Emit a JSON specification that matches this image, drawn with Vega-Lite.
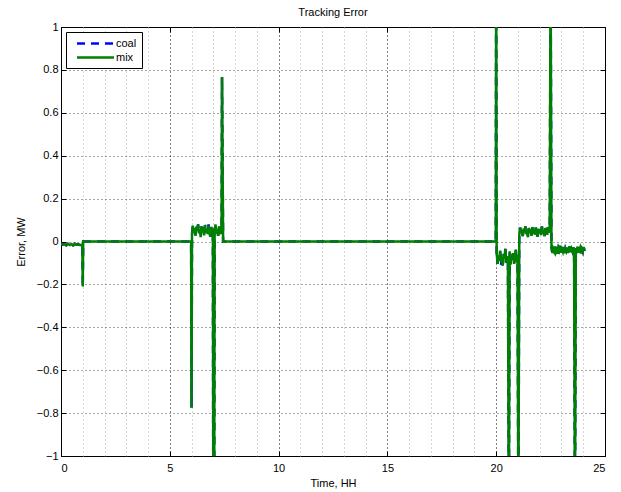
{
  "$schema": "https://vega.github.io/schema/vega-lite/v6.json",
  "width": 544,
  "height": 429,
  "autosize": {"type": "none"},
  "padding": {"left": 61, "top": 27, "right": 16, "bottom": 36},
  "background": "white",
  "config": {"font": "Liberation Sans", "view": {"stroke": "black", "strokeWidth": 1}},
  "title": {"text": "Tracking Error", "fontSize": 11, "fontWeight": "normal", "color": "black", "offset": 3},
  "data": {"values": [
    {"t": 0, "coal": -0.01, "mix": -0.01},
    {"t": 0.08, "coal": -0.015, "mix": -0.015},
    {"t": 0.16, "coal": -0.012, "mix": -0.012},
    {"t": 0.24, "coal": -0.018, "mix": -0.018},
    {"t": 0.32, "coal": -0.01, "mix": -0.01},
    {"t": 0.4, "coal": -0.016, "mix": -0.016},
    {"t": 0.48, "coal": -0.012, "mix": -0.012},
    {"t": 0.56, "coal": -0.018, "mix": -0.018},
    {"t": 0.64, "coal": -0.011, "mix": -0.011},
    {"t": 0.72, "coal": -0.015, "mix": -0.015},
    {"t": 0.8, "coal": -0.013, "mix": -0.013},
    {"t": 0.88, "coal": -0.017, "mix": -0.017},
    {"t": 0.98, "coal": -0.014, "mix": -0.014},
    {"t": 1.0, "coal": -0.21, "mix": -0.21},
    {"t": 1.02, "coal": 0, "mix": 0},
    {"t": 5.98, "coal": 0, "mix": 0},
    {"t": 6.0, "coal": -0.775, "mix": -0.775},
    {"t": 6.02, "coal": 0.032, "mix": 0.032},
    {"t": 6.06, "coal": 0.074, "mix": 0.074},
    {"t": 6.10, "coal": 0.044, "mix": 0.044},
    {"t": 6.14, "coal": 0.062, "mix": 0.062},
    {"t": 6.18, "coal": 0.026, "mix": 0.026},
    {"t": 6.22, "coal": 0.068, "mix": 0.068},
    {"t": 6.26, "coal": 0.05, "mix": 0.05},
    {"t": 6.30, "coal": 0.08, "mix": 0.08},
    {"t": 6.34, "coal": 0.038, "mix": 0.038},
    {"t": 6.38, "coal": 0.056, "mix": 0.056},
    {"t": 6.42, "coal": 0.02, "mix": 0.02},
    {"t": 6.46, "coal": 0.071, "mix": 0.071},
    {"t": 6.50, "coal": 0.047, "mix": 0.047},
    {"t": 6.54, "coal": 0.065, "mix": 0.065},
    {"t": 6.58, "coal": 0.029, "mix": 0.029},
    {"t": 6.62, "coal": 0.077, "mix": 0.077},
    {"t": 6.66, "coal": 0.041, "mix": 0.041},
    {"t": 6.70, "coal": 0.059, "mix": 0.059},
    {"t": 6.74, "coal": 0.035, "mix": 0.035},
    {"t": 6.78, "coal": 0.08, "mix": 0.074},
    {"t": 6.82, "coal": 0.05, "mix": 0.05},
    {"t": 6.86, "coal": 0.023, "mix": 0.023},
    {"t": 6.90, "coal": 0.068, "mix": 0.068},
    {"t": 6.94, "coal": 0.044, "mix": 0.044},
    {"t": 6.98, "coal": 0.062, "mix": 0.062},
    {"t": 7.0, "coal": -1.3, "mix": -1.3},
    {"t": 7.04, "coal": -1.3, "mix": -1.3},
    {"t": 7.06, "coal": 0.032, "mix": 0.032},
    {"t": 7.10, "coal": 0.08, "mix": 0.08},
    {"t": 7.14, "coal": 0.038, "mix": 0.038},
    {"t": 7.18, "coal": 0.056, "mix": 0.056},
    {"t": 7.22, "coal": 0.026, "mix": 0.026},
    {"t": 7.26, "coal": 0.071, "mix": 0.071},
    {"t": 7.30, "coal": 0.053, "mix": 0.053},
    {"t": 7.34, "coal": 0.035, "mix": 0.035},
    {"t": 7.38, "coal": 0.077, "mix": 0.077},
    {"t": 7.40, "coal": 0.767, "mix": 0.767},
    {"t": 7.45, "coal": 0, "mix": 0},
    {"t": 19.98, "coal": 0, "mix": 0},
    {"t": 20.0, "coal": 1.3, "mix": 1.3},
    {"t": 20.02, "coal": -0.05, "mix": -0.05},
    {"t": 20.06, "coal": -0.104, "mix": -0.104},
    {"t": 20.10, "coal": -0.065, "mix": -0.065},
    {"t": 20.14, "coal": -0.089, "mix": -0.089},
    {"t": 20.18, "coal": -0.042, "mix": -0.042},
    {"t": 20.22, "coal": -0.11, "mix": -0.096},
    {"t": 20.26, "coal": -0.073, "mix": -0.073},
    {"t": 20.30, "coal": -0.112, "mix": -0.112},
    {"t": 20.34, "coal": -0.057, "mix": -0.057},
    {"t": 20.38, "coal": -0.081, "mix": -0.081},
    {"t": 20.42, "coal": -0.034, "mix": -0.034},
    {"t": 20.46, "coal": -0.1, "mix": -0.1},
    {"t": 20.50, "coal": -0.069, "mix": -0.069},
    {"t": 20.54, "coal": -0.093, "mix": -0.093},
    {"t": 20.58, "coal": -1.3, "mix": -1.3},
    {"t": 20.62, "coal": -0.046, "mix": -0.046},
    {"t": 20.66, "coal": -0.108, "mix": -0.108},
    {"t": 20.70, "coal": -0.061, "mix": -0.061},
    {"t": 20.74, "coal": -0.085, "mix": -0.085},
    {"t": 20.78, "coal": -0.054, "mix": -0.054},
    {"t": 20.82, "coal": -0.104, "mix": -0.104},
    {"t": 20.86, "coal": -0.073, "mix": -0.073},
    {"t": 20.90, "coal": -0.038, "mix": -0.038},
    {"t": 20.94, "coal": -0.096, "mix": -0.096},
    {"t": 20.98, "coal": -0.065, "mix": -0.065},
    {"t": 21.02, "coal": -1.3, "mix": -1.3},
    {"t": 21.06, "coal": 0.03, "mix": 0.03},
    {"t": 21.10, "coal": 0.065, "mix": 0.065},
    {"t": 21.14, "coal": 0.04, "mix": 0.04},
    {"t": 21.18, "coal": 0.055, "mix": 0.055},
    {"t": 21.22, "coal": 0.025, "mix": 0.025},
    {"t": 21.26, "coal": 0.06, "mix": 0.06},
    {"t": 21.30, "coal": 0.045, "mix": 0.045},
    {"t": 21.34, "coal": 0.07, "mix": 0.07},
    {"t": 21.38, "coal": 0.035, "mix": 0.035},
    {"t": 21.42, "coal": 0.05, "mix": 0.05},
    {"t": 21.46, "coal": 0.02, "mix": 0.02},
    {"t": 21.50, "coal": 0.0625, "mix": 0.0625},
    {"t": 21.54, "coal": 0.0425, "mix": 0.0425},
    {"t": 21.58, "coal": 0.0575, "mix": 0.0575},
    {"t": 21.62, "coal": 0.0275, "mix": 0.0275},
    {"t": 21.66, "coal": 0.0675, "mix": 0.0675},
    {"t": 21.70, "coal": 0.0375, "mix": 0.0375},
    {"t": 21.74, "coal": 0.0525, "mix": 0.0525},
    {"t": 21.78, "coal": 0.0325, "mix": 0.0325},
    {"t": 21.82, "coal": 0.065, "mix": 0.065},
    {"t": 21.86, "coal": 0.045, "mix": 0.045},
    {"t": 21.90, "coal": 0.0225, "mix": 0.0225},
    {"t": 21.94, "coal": 0.06, "mix": 0.06},
    {"t": 21.98, "coal": 0.04, "mix": 0.04},
    {"t": 22.02, "coal": 0.055, "mix": 0.055},
    {"t": 22.06, "coal": 0.03, "mix": 0.03},
    {"t": 22.10, "coal": 0.07, "mix": 0.07},
    {"t": 22.14, "coal": 0.035, "mix": 0.035},
    {"t": 22.18, "coal": 0.05, "mix": 0.05},
    {"t": 22.22, "coal": 0.025, "mix": 0.025},
    {"t": 22.26, "coal": 0.0625, "mix": 0.0625},
    {"t": 22.30, "coal": 0.0475, "mix": 0.0475},
    {"t": 22.34, "coal": 0.0325, "mix": 0.0325},
    {"t": 22.38, "coal": 0.0675, "mix": 0.0675},
    {"t": 22.42, "coal": 0.0425, "mix": 0.0425},
    {"t": 22.46, "coal": 0.0575, "mix": 0.0575},
    {"t": 22.50, "coal": 1.3, "mix": 1.3},
    {"t": 22.54, "coal": -0.027, "mix": -0.027},
    {"t": 22.58, "coal": -0.053, "mix": -0.053},
    {"t": 22.62, "coal": -0.035, "mix": -0.035},
    {"t": 22.66, "coal": -0.046, "mix": -0.046},
    {"t": 22.70, "coal": -0.024, "mix": -0.024},
    {"t": 22.74, "coal": -0.05, "mix": -0.05},
    {"t": 22.78, "coal": -0.039, "mix": -0.039},
    {"t": 22.82, "coal": -0.057, "mix": -0.057},
    {"t": 22.86, "coal": -0.031, "mix": -0.031},
    {"t": 22.90, "coal": -0.042, "mix": -0.042},
    {"t": 22.94, "coal": -0.02, "mix": -0.02},
    {"t": 22.98, "coal": -0.051, "mix": -0.051},
    {"t": 23.02, "coal": -0.037, "mix": -0.037},
    {"t": 23.06, "coal": -0.048, "mix": -0.048},
    {"t": 23.10, "coal": -0.026, "mix": -0.026},
    {"t": 23.14, "coal": -0.055, "mix": -0.055},
    {"t": 23.18, "coal": -0.033, "mix": -0.033},
    {"t": 23.22, "coal": -0.044, "mix": -0.044},
    {"t": 23.26, "coal": -0.029, "mix": -0.029},
    {"t": 23.30, "coal": -0.053, "mix": -0.053},
    {"t": 23.34, "coal": -0.039, "mix": -0.039},
    {"t": 23.38, "coal": -0.022, "mix": -0.022},
    {"t": 23.42, "coal": -0.05, "mix": -0.05},
    {"t": 23.46, "coal": -0.035, "mix": -0.035},
    {"t": 23.50, "coal": -0.046, "mix": -0.046},
    {"t": 23.54, "coal": -0.027, "mix": -0.027},
    {"t": 23.58, "coal": -0.057, "mix": -0.057},
    {"t": 23.62, "coal": -1.3, "mix": -1.3},
    {"t": 23.66, "coal": -0.031, "mix": -0.031},
    {"t": 23.70, "coal": -0.042, "mix": -0.042},
    {"t": 23.74, "coal": -0.024, "mix": -0.024},
    {"t": 23.78, "coal": -0.051, "mix": -0.051},
    {"t": 23.82, "coal": -0.04, "mix": -0.04},
    {"t": 23.86, "coal": -0.029, "mix": -0.029},
    {"t": 23.90, "coal": -0.055, "mix": -0.055},
    {"t": 23.94, "coal": -0.037, "mix": -0.037},
    {"t": 23.98, "coal": -0.048, "mix": -0.048},
    {"t": 24.02, "coal": -0.026, "mix": -0.026},
    {"t": 24.06, "coal": -0.044, "mix": -0.044}
  ]},
  "transform": [{"fold": ["coal", "mix"], "as": ["series", "value"]}],
  "encoding": {
    "color": {
      "field": "series", "type": "nominal",
      "scale": {"domain": ["coal", "mix"], "range": ["#0000ff", "#008000"]},
      "legend": {"title": null, "orient": "top-left", "offset": 5, "strokeColor": "black", "fillColor": "white", "padding": 5, "symbolType": "M-0.1,0H7.3", "symbolSize": 100, "symbolStrokeWidth": 2.5, "labelFontSize": 11, "labelColor": "black", "rowPadding": 2, "labelOffset": 32}
    },
    "strokeDash": {
      "field": "series", "type": "nominal",
      "scale": {"domain": ["coal", "mix"], "range": [[8, 6], [1, 0]]},
      "legend": {"title": null, "orient": "top-left", "offset": 5, "strokeColor": "black", "fillColor": "white", "padding": 5, "symbolType": "M-0.1,0H7.3", "symbolSize": 100, "symbolStrokeWidth": 2.5, "labelFontSize": 11, "labelColor": "black", "rowPadding": 2, "labelOffset": 32}
    }
  },
  "layer": [
    {
      "transform": [{"filter": "datum.series === 'coal'"}],
      "mark": {"type": "line", "clip": true, "strokeWidth": 2.5},
      "encoding": {
        "x": {"field": "t", "type": "quantitative", "scale": {"domain": [0, 25], "nice": false, "zero": false},
          "axis": {"orient": "top", "values": [0, 5, 10, 15, 20, 25], "labels": false, "domain": false, "grid": false, "tickSize": -5, "tickColor": "black", "title": null}},
        "y": {"field": "value", "type": "quantitative", "scale": {"domain": [-1, 1], "nice": false, "zero": false},
          "axis": {"orient": "right", "values": [-1, -0.8, -0.6, -0.4, -0.2, 0, 0.2, 0.4, 0.6, 0.8, 1], "labels": false, "domain": false, "grid": false, "tickSize": -5, "tickColor": "black", "title": null}}
      }
    },
    {
      "transform": [{"filter": "datum.series === 'mix'"}],
      "mark": {"type": "line", "clip": true, "strokeWidth": 2.5},
      "encoding": {
        "x": {"field": "t", "type": "quantitative", "scale": {"domain": [0, 25], "nice": false, "zero": false},
          "axis": {"orient": "bottom", "values": [0, 1, 2, 3, 4, 5, 6, 7, 8, 9, 10, 11, 12, 13, 14, 15, 16, 17, 18, 19, 20, 21, 22, 23, 24, 25],
            "labelExpr": "datum.value % 5 === 0 ? datum.label : ''", "format": "d",
            "domain": false, "grid": true, "gridDash": [1, 3],
            "gridColor": {"condition": {"test": "datum.value % 5 === 0", "value": "#000000"}, "value": "#aaaaaa"},
            "tickSize": {"condition": {"test": "datum.value % 5 === 0", "value": -5}, "value": 0},
            "tickColor": "black", "labelFontSize": 11, "labelColor": "black", "labelPadding": 11,
            "title": "Time, HH", "titleFontSize": 11, "titleFontWeight": "normal", "titleColor": "black", "titlePadding": 4}},
        "y": {"field": "value", "type": "quantitative", "scale": {"domain": [-1, 1], "nice": false, "zero": false},
          "axis": {"orient": "left", "values": [-1, -0.8, -0.6, -0.4, -0.2, 0, 0.2, 0.4, 0.6, 0.8, 1], "format": "~g",
            "domain": false, "grid": true, "gridDash": [1, 3], "gridColor": "#000000", "gridOpacity": 0.7,
            "tickSize": -5, "tickColor": "black", "labelFontSize": 11, "labelColor": "black", "labelPadding": 8,
            "title": "Error, MW", "titleFontSize": 11, "titleFontWeight": "normal", "titleColor": "black", "titlePadding": 10}}
      }
    }
  ],
  "resolve": {"axis": {"x": "independent", "y": "independent"}}
}
